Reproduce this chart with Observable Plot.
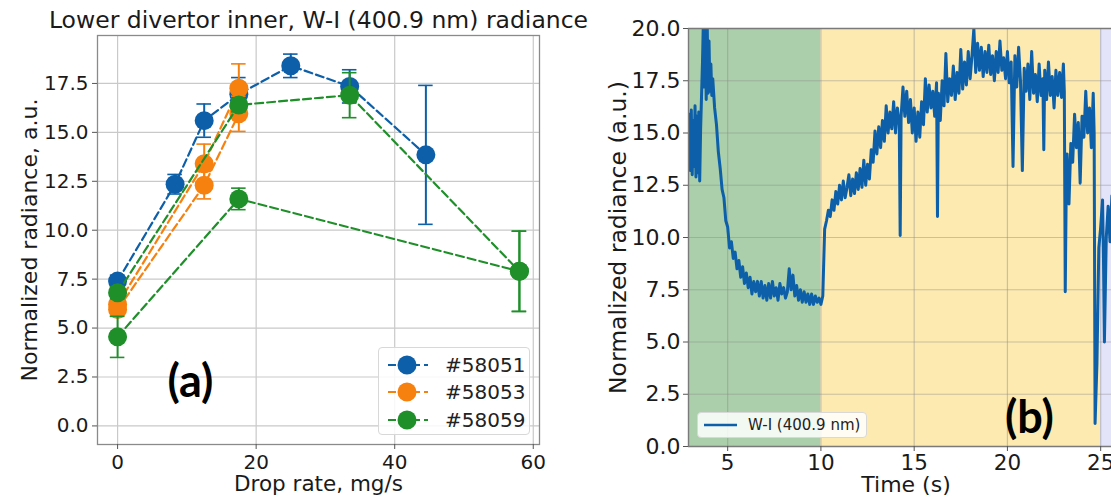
<!DOCTYPE html>
<html><head><meta charset="utf-8">
<script src="https://cdn.jsdelivr.net/npm/d3@7"></script>
<script src="https://cdn.jsdelivr.net/npm/@observablehq/plot@0.6"></script>
<style>
body{margin:0;background:#fff;font-family:"DejaVu Sans",sans-serif;}
#wrap{position:relative;width:1111px;height:497px;overflow:hidden;background:#fff;}
#left{position:absolute;left:0;top:0;}
#right{position:absolute;left:600px;top:0;}
.legend{position:absolute;background:rgba(255,255,255,0.85);border:1px solid #d8d8d8;border-radius:4px;box-sizing:border-box;color:#222;}
.row{display:flex;align-items:center;white-space:nowrap;}
</style></head>
<body><div id="wrap"><div id="left"></div><div id="right"></div><div id="legA" class="legend"></div><div id="legB" class="legend"></div></div>
<script>
// ---------- Panel (a) data ----------
const titleA = "Lower divertor inner, W-I (400.9 nm) radiance";
const xLabelA = "Drop rate, mg/s";
const yLabelA = "Normalized radiance, a.u.";
const xTicksA = [0, 20, 40, 60];
const yTicksA = [0, 2.5, 5, 7.5, 10, 12.5, 15, 17.5];

const shotNames = ["#58051", "#58053", "#58059"];
const shotColors = ["#0c5fa8", "#f7810f", "#1f8f2a"];

const drop58051 = [0, 8.3, 12.5, 17.5, 25, 33.5, 44.5];
const rad58051  = [7.4, 12.35, 15.6, 16.95, 18.4, 17.35, 13.85];
const err58051  = [0.3, 0.5, 0.85, 0.85, 0.6, 0.85, 3.55];

const drop58053a = [0, 12.5, 17.5];
const rad58053a  = [6.2, 13.4, 17.25];
const err58053a  = [0.45, 1.0, 1.25];
const drop58053b = [0, 12.5, 17.5];
const rad58053b  = [5.95, 12.3, 15.95];
const err58053b  = [0.35, 0.7, 0.9];

const drop58059a = [0, 17.5, 33.5, 58];
const rad58059a  = [6.8, 16.4, 16.9, 7.9];
const err58059a  = [0.3, 0.35, 1.15, 2.05];
const drop58059b = [0, 17.5, 58];
const rad58059b  = [4.55, 11.6, 7.9];
const err58059b  = [1.05, 0.55, 2.05];

// ---------- Panel (b) data ----------
const xLabelB = "Time (s)";
const yLabelB = "Normalized radiance (a.u.)";
const xTicksB = [5, 10, 15, 20, 25];
const yTicksB = [0, 2.5, 5, 7.5, 10, 12.5, 15, 17.5, 20];
const legendB = "W-I (400.9 nm)";
const phaseStart = [2.0, 10.0, 25.0];
const phaseEnd   = [10.0, 25.0, 27.0];
const phaseColor = ["#aacfaa", "#fdeab0", "#e3e3fa"];
const traceColor = "#0c5fa8";
// [time (s), radiance (a.u.)]
const traceSamples = [
 [2.9,14.5],[2.95,15.9],[3.0,13.2],[3.05,16.1],[3.1,13.0],[3.15,15.6],[3.2,13.4],[3.25,16.3],[3.3,12.9],[3.35,15.8],[3.4,13.1],[3.45,16.0],[3.5,12.7],[3.55,15.2],
 [3.6,16.8],[3.65,18.4],[3.7,20.5],[3.75,17.2],[3.8,20.5],[3.85,16.6],[3.9,20.5],[3.95,16.9],[4.0,19.4],[4.05,17.0],[4.1,18.3],[4.15,16.8],[4.2,17.6],[4.3,16.2],
 [4.4,15.4],[4.5,14.1],[4.6,13.3],[4.7,12.3],[4.8,11.9],[4.9,10.8],[5.0,10.5],[5.1,9.5],[5.2,9.8],[5.3,9.0],[5.4,9.3],[5.5,8.5],[5.6,8.9],[5.7,8.1],[5.8,8.6],
 [5.9,7.8],[6.0,8.3],[6.1,7.6],[6.2,8.1],[6.3,7.3],[6.4,7.9],[6.5,7.4],[6.6,7.9],[6.7,7.2],[6.8,7.9],[6.9,7.1],[7.0,7.7],[7.1,7.0],[7.2,7.8],[7.3,7.1],
 [7.4,7.9],[7.5,7.2],[7.6,7.6],[7.7,7.0],[7.8,7.8],[7.9,7.3],[8.0,7.6],[8.1,7.1],[8.2,7.4],[8.3,8.5],[8.4,7.5],[8.5,8.2],[8.6,7.2],[8.7,7.7],[8.8,7.0],
 [8.9,7.5],[9.0,6.9],[9.1,7.4],[9.2,6.9],[9.3,7.3],[9.4,6.8],[9.5,7.3],[9.6,6.8],[9.7,7.2],[9.8,6.9],[9.9,7.1],[10.0,6.8],[10.1,7.2],[10.2,10.4],
 [10.3,10.8],[10.4,11.3],[10.5,11.0],[10.6,11.8],[10.7,11.3],[10.8,12.2],[10.9,11.6],[11.0,12.5],[11.1,11.8],[11.2,12.7],[11.3,11.9],[11.4,12.4],[11.5,13.0],
 [11.6,12.0],[11.7,12.8],[11.8,12.1],[11.9,13.1],[12.0,12.3],[12.1,13.3],[12.2,12.4],[12.3,13.7],[12.4,12.5],[12.5,13.5],[12.6,12.8],[12.7,14.2],[12.8,13.6],
 [12.9,15.1],[13.0,14.0],[13.1,15.3],[13.2,14.3],[13.3,15.6],[13.4,14.6],[13.5,16.3],[13.6,15.0],[13.7,16.0],[13.8,15.2],[13.9,16.5],[14.0,15.0],[14.1,16.2],
 [14.2,15.4],[14.25,10.1],[14.3,15.8],[14.4,17.2],[14.5,15.8],[14.6,17.0],[14.7,15.5],[14.8,16.6],[14.9,15.0],[15.0,16.2],[15.1,14.6],[15.2,16.0],[15.3,14.8],
 [15.4,16.5],[15.5,15.4],[15.6,17.6],[15.7,16.0],[15.8,17.3],[15.9,16.2],[16.0,17.0],[16.1,15.8],[16.2,17.4],[16.25,11.0],[16.3,16.9],[16.4,15.6],[16.5,17.5],
 [16.6,16.3],[16.7,18.8],[16.8,16.5],[16.9,17.6],[17.0,16.8],[17.1,18.2],[17.2,16.6],[17.3,17.9],[17.4,16.9],[17.5,19.0],[17.6,17.1],[17.7,18.4],[17.8,17.3],
 [17.9,18.9],[18.0,17.6],[18.1,18.7],[18.2,20.0],[18.3,17.9],[18.4,19.3],[18.5,18.0],[18.6,19.1],[18.7,17.7],[18.8,18.9],[18.9,17.9],[19.0,19.2],[19.1,17.8],
 [19.2,18.7],[19.3,17.5],[19.4,18.9],[19.5,17.9],[19.6,19.4],[19.7,18.0],[19.8,18.6],[19.9,17.6],[20.0,18.9],[20.1,17.4],[20.2,18.4],[20.3,13.4],[20.4,18.7],
 [20.5,17.2],[20.6,19.1],[20.7,17.5],[20.8,13.2],[20.9,18.1],[21.0,17.0],[21.1,18.3],[21.2,16.6],[21.3,18.9],[21.4,16.9],[21.5,17.8],[21.6,16.5],[21.7,18.3],
 [21.8,16.8],[21.9,17.6],[21.95,14.2],[22.0,18.0],[22.1,16.6],[22.2,18.4],[22.3,16.8],[22.4,17.7],[22.5,16.2],[22.6,18.0],[22.7,16.8],[22.8,17.9],[22.9,16.7],
 [23.0,18.3],[23.05,17.0],[23.1,7.4],[23.15,12.0],[23.2,14.0],[23.3,11.6],[23.4,14.5],[23.5,13.6],[23.6,15.9],[23.7,14.3],[23.8,15.5],[23.9,12.6],[24.0,15.8],
 [24.1,14.8],[24.2,17.0],[24.3,15.0],[24.4,16.2],[24.5,14.3],[24.6,16.9],[24.65,15.0],[24.7,1.1],[24.8,4.0],[24.9,9.5],[25.0,10.5],[25.1,11.8],[25.15,9.0],
 [25.2,5.0],[25.3,10.0],[25.4,11.5],[25.5,9.8],[25.6,12.0]
];

// ---------- build panel (a) ----------
function rowsOf(xs, ys, es) { return xs.map((x, i) => ({x, y: ys[i], e: es[i]})); }
const seriesA = [
  {color: shotColors[0], rows: rowsOf(drop58051, rad58051, err58051)},
  {color: shotColors[1], rows: rowsOf(drop58053a, rad58053a, err58053a)},
  {color: shotColors[1], rows: rowsOf(drop58053b, rad58053b, err58053b)},
  {color: shotColors[2], rows: rowsOf(drop58059a, rad58059a, err58059a)},
  {color: shotColors[2], rows: rowsOf(drop58059b, rad58059b, err58059b)}
];
const capHalf = 1.05;
const seriesMarks = seriesA.flatMap(s => [
  Plot.line(s.rows, {x: "x", y: "y", stroke: s.color, strokeWidth: 2.2, strokeDasharray: "8,4"}),
  Plot.ruleX(s.rows, {x: "x", y1: d => d.y - d.e, y2: d => d.y + d.e, stroke: s.color, strokeWidth: 2}),
  Plot.ruleY(s.rows, {y: d => d.y + d.e, x1: d => d.x - capHalf, x2: d => d.x + capHalf, stroke: s.color, strokeWidth: 1.6}),
  Plot.ruleY(s.rows, {y: d => d.y - d.e, x1: d => d.x - capHalf, x2: d => d.x + capHalf, stroke: s.color, strokeWidth: 1.6}),
  Plot.dot(s.rows, {x: "x", y: "y", r: 9.5, fill: s.color})
]);

const txt = {text: d => d, textAnchor: "middle", lineAnchor: "middle", fill: "#1a1a1a"};
const plotA = Plot.plot({
  width: 600, height: 497,
  marginLeft: 97, marginRight: 61, marginTop: 35, marginBottom: 53,
  style: {fontFamily: "DejaVu Sans", fontSize: "20px", color: "#1a1a1a", background: "transparent", overflow: "visible"},
  x: {domain: [-2.9, 60.9]},
  y: {domain: [-0.95, 19.95]},
  marks: [
    Plot.gridX(xTicksA, {stroke: "#c9c9c9", strokeOpacity: 1, strokeWidth: 1.2}),
    Plot.gridY(yTicksA, {stroke: "#c9c9c9", strokeOpacity: 1, strokeWidth: 1.2}),
    Plot.frame({stroke: "#8a8a8a", strokeWidth: 1.3}),
    ...seriesMarks,
    Plot.axisX({ticks: xTicksA, tickSize: 5, tickPadding: 5, fontSize: 20, label: null, stroke: "#555"}),
    Plot.axisY({ticks: yTicksA, tickSize: 5, tickPadding: 4, fontSize: 20, label: null, tickFormat: d3.format(".1f"), stroke: "#555"}),
    Plot.text([titleA], {...txt, frameAnchor: "top", dy: -15, fontSize: 23.5}),
    Plot.text([xLabelA], {...txt, frameAnchor: "bottom", dy: 40, fontSize: 21.5}),
    Plot.text([yLabelA], {...txt, frameAnchor: "left", dx: -68, rotate: -90, fontSize: 22}),
    Plot.text(["(a)"], {...txt, frameAnchor: "bottom-left", dx: 93, dy: -62, fontSize: 45, fontWeight: "bold", fontFamily: "Lato", fill: "#000"})
  ]
});
document.getElementById("left").appendChild(plotA);

// ---------- build panel (b) ----------
const phases = phaseStart.map((s, i) => ({x1: s, x2: phaseEnd[i], fill: phaseColor[i]}));
const trace = traceSamples.map(([t, v]) => ({t, v}));
const plotB = Plot.plot({
  width: 511, height: 497,
  marginLeft: 88, marginRight: 0, marginTop: 28, marginBottom: 51,
  style: {fontFamily: "DejaVu Sans", fontSize: "22px", color: "#1a1a1a", background: "transparent", overflow: "visible"},
  x: {domain: [2.9, 25.58]},
  y: {domain: [0, 20]},
  color: {type: "identity"},
  marks: [
    Plot.rect(phases, {x1: "x1", x2: "x2", y1: 0, y2: 20, fill: "fill", clip: true}),
    Plot.gridX(xTicksB, {stroke: "#8c8c8c", strokeOpacity: 0.45, strokeWidth: 1.2}),
    Plot.gridY(yTicksB, {stroke: "#8c8c8c", strokeOpacity: 0.45, strokeWidth: 1.2}),
    Plot.line(trace, {x: "t", y: "v", stroke: traceColor, strokeWidth: 3, clip: true}),
    Plot.ruleY([0, 20], {stroke: "#7a7a7a", strokeWidth: 1.4}),
    Plot.ruleX([2.9], {stroke: "#7a7a7a", strokeWidth: 1.4}),
    Plot.axisX({ticks: xTicksB, tickSize: 5, tickPadding: 3, fontSize: 21.5, label: null, stroke: "#555"}),
    Plot.axisY({ticks: yTicksB, tickSize: 5, tickPadding: 3, fontSize: 22, label: null, tickFormat: d3.format(".1f"), stroke: "#555"}),
    Plot.text([xLabelB], {...txt, frameAnchor: "bottom", dx: 6, dy: 38, fontSize: 22}),
    Plot.text([yLabelB], {...txt, frameAnchor: "left", dx: -70, rotate: -90, fontSize: 23.5}),
    Plot.text(["(b)"], {...txt, frameAnchor: "bottom-left", dx: 341, dy: -28, fontSize: 45, fontWeight: "bold", fontFamily: "Lato", fill: "#000"})
  ]
});
document.getElementById("right").appendChild(plotB);

// ---------- legends ----------
const legA = document.getElementById("legA");
Object.assign(legA.style, {left: "378px", top: "347px", width: "152px", height: "88px", padding: "3px 0 0 6px"});
shotNames.forEach((name, i) => {
  const row = document.createElement("div");
  row.className = "row";
  row.style.height = "27.5px";
  row.innerHTML = `<svg width="46" height="24" style="flex:none"><line x1="3" x2="43" y1="12" y2="12" stroke="${shotColors[i]}" stroke-width="2.2" stroke-dasharray="8,4"/><circle cx="22" cy="12" r="9.5" fill="${shotColors[i]}"/></svg><span style="font-size:20px;margin-left:14px">${name}</span>`;
  legA.appendChild(row);
});
const legB = document.getElementById("legB");
Object.assign(legB.style, {left: "697px", top: "412px", width: "170px", height: "26px", padding: "0 0 0 4px"});
legB.innerHTML = `<div class="row" style="height:24px"><svg width="36" height="20" style="flex:none"><line x1="2" x2="35" y1="10" y2="10" stroke="${traceColor}" stroke-width="2.4"/></svg><span style="font-size:15px;margin-left:10px">${legendB}</span></div>`;
</script></body></html>
